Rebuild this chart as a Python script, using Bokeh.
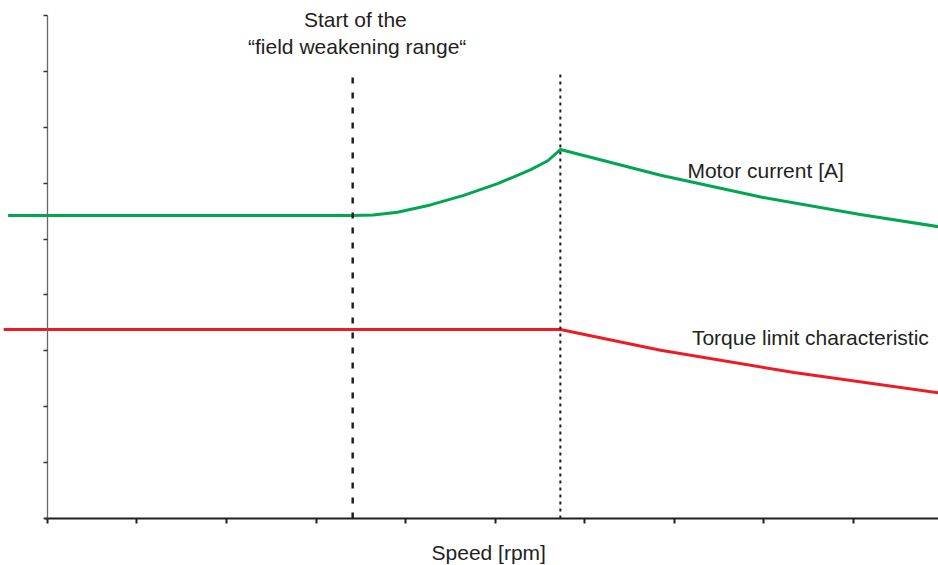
from bokeh.plotting import figure
from bokeh.models import FixedTicker, Label
from bokeh.embed import file_html
from bokeh.resources import INLINE

# ---- data (speed in tick units, value in tick units) ----
current_speed = [-0.44, 3.41, 3.64, 3.91, 4.28, 4.65, 5.03, 5.40, 5.59, 5.73, 6.85, 7.97, 9.08, 9.955]
current_value = [5.42, 5.42, 5.43, 5.48, 5.61, 5.78, 5.99, 6.24, 6.40, 6.60, 6.14, 5.75, 5.44, 5.22]
torque_speed = [-0.49, 5.73, 6.85, 8.34, 9.955]
torque_value = [3.38, 3.38, 3.01, 2.61, 2.25]
field_weak_start = 3.41
peak_speed = 5.73
marker_top = 7.98
x_ticks = list(range(0, 11))
y_ticks = list(range(0, 10))

FONT = "Liberation Sans"
TXT = "#231F20"

p = figure(width=938, height=565, x_range=(-0.525, 9.955), y_range=(-0.841, 9.267),
           output_backend="svg", toolbar_location=None, min_border=0)
p.outline_line_color = None
p.xgrid.grid_line_color = None
p.ygrid.grid_line_color = None

# y axis placed at speed 0, lines extend left of it
yax = p.yaxis[0]
yax.fixed_location = 0
yax.bounds = (0, 9)
yax.ticker = FixedTicker(ticks=y_ticks)
yax.major_label_overrides = {t: "" for t in y_ticks}
yax.major_label_text_font_size = "0px"
yax.axis_line_color = "#666666"
yax.axis_line_width = 1.3
yax.major_tick_line_color = "#333333"
yax.major_tick_line_width = 1.5
yax.major_tick_out = 4
yax.major_tick_in = 0
yax.minor_tick_line_color = None

# x axis placed at value 0
xax = p.xaxis[0]
xax.fixed_location = 0
xax.bounds = (-0.03, 10)
xax.ticker = FixedTicker(ticks=x_ticks)
xax.major_label_overrides = {t: "" for t in x_ticks}
xax.major_label_text_font_size = "0px"
xax.axis_line_color = "#231F20"
xax.axis_line_width = 2.2
xax.major_tick_line_color = "#231F20"
xax.major_tick_line_width = 2
xax.major_tick_out = 5
xax.major_tick_in = 0
xax.minor_tick_line_color = None

p.line(current_speed, current_value, line_color="#00A651", line_width=3)
p.line(torque_speed, torque_value, line_color="#ED1C24", line_width=3)

p.line([field_weak_start, field_weak_start], [0, marker_top], line_color="#231F20",
       line_width=2.5, line_dash="6 9")
p.line([peak_speed, peak_speed], [0, marker_top], line_color="#231F20",
       line_width=2, line_dash="3 4")

def lab(x, y, t, align):
    p.add_layout(Label(x=x, y=y, text=t, text_font=FONT, text_font_size="21px",
                       text_color=TXT, text_align=align, text_baseline="middle"))

lab(3.44, 8.93, "Start of the", "center")
lab(3.46, 8.44, "\u201cfield weakening range\u201c", "center")
lab(7.15, 6.23, "Motor current [A]", "left")
lab(7.20, 3.24, "Torque limit characteristic", "left")
lab(4.93, -0.61, "Speed [rpm]", "center")  # x-axis title

open("out.html", "w").write(file_html(p, INLINE))
